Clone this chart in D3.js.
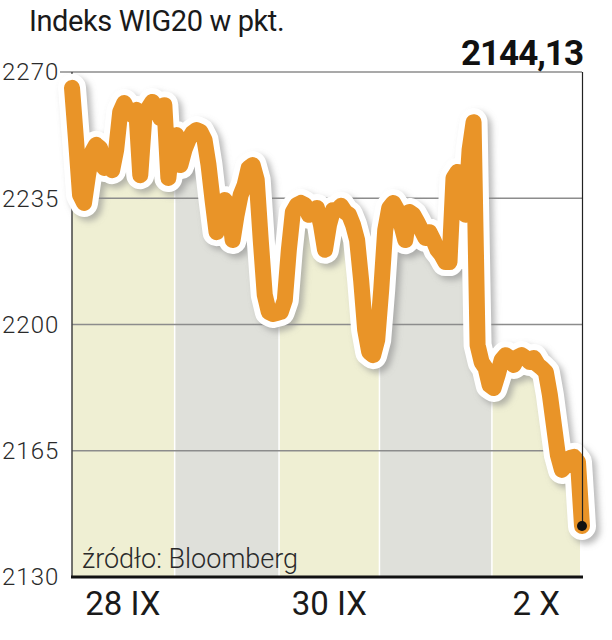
<!DOCTYPE html>
<html>
<head>
<meta charset="utf-8">
<script src="https://cdn.jsdelivr.net/npm/d3@7"></script>
<style>
    body { margin: 0; background: #fff; }
    svg text { font-family: Roboto, "DejaVu Sans", sans-serif; }
</style>
</head>
<body>
<script>
(function() {

    //////////
    // Data //
    //////////
    // WIG20 intraday, one array per session (roughly even spacing)
    var dayLabels = ["28 IX", "29 IX", "30 IX", "1 X", "2 X"];
    var shownLabels = ["28 IX", "30 IX", "2 X"];

    var day1 = [2265.6, 2251.2, 2235.9, 2233.7, 2241.4, 2247.8, 2249.8, 2248.9, 2243.4, 2245.6,
        2242.8, 2248.4, 2258.9, 2261.4, 2258.9, 2258.1, 2259.5, 2241.4, 2257.2, 2260.0,
        2261.7, 2260.0, 2257.2, 2260.8, 2240.6, 2251.2];
    var day2 = [2252.5, 2244.2, 2248.4, 2251.2, 2253.1, 2253.9, 2253.4, 2251.2, 2244.2, 2234.5,
        2225.6, 2231.7, 2234.5, 2233.1, 2223.4, 2230.4, 2235.9, 2238.7, 2243.4, 2244.2,
        2240.1, 2223.4, 2208.2, 2203.5, 2202.9, 2203.2];
    var day3 = [2203.5, 2206.8, 2220.7, 2231.2, 2233.1, 2233.7, 2233.1, 2230.4, 2231.2, 2232.3,
        2227.6, 2220.7, 2227.6, 2231.7, 2231.7, 2232.9, 2231.2, 2230.4, 2227.6, 2223.4,
        2212.3, 2198.5, 2192.4, 2191.5, 2195.7];
    var day4 = [2209.6, 2226.2, 2232.3, 2233.7, 2231.7, 2227.6, 2223.4, 2231.2, 2230.4, 2228.4,
        2226.2, 2224.0, 2225.6, 2223.4, 2220.7, 2219.3, 2217.3, 2217.3, 2240.6, 2242.3,
        2240.1, 2230.4, 2248.4, 2256.1, 2194.3, 2189.6, 2187.9, 2183.2];
    var day5 = [2182.4, 2186.0, 2190.2, 2191.5, 2190.7, 2188.8, 2191.0, 2191.5, 2190.7, 2189.6,
        2190.7, 2188.8, 2187.9, 2186.8, 2180.5, 2172.1, 2163.8, 2159.7, 2161.0, 2163.0,
        2163.3, 2161.9, 2144.13];

    var yTicks = [2130, 2165, 2200, 2235, 2270];
    var lastLabel = "2144,13";
    var title = "Indeks WIG20 w pkt.";
    var source = "źródło: Bloomberg";

    // frame
    var width = 612, height = 640,
        left = 72, right = 582,
        top = 72, bottom = 577;

    var days = [day1, day2, day3, day4, day5];
    var series = [], dayRanges = [];
    days.forEach(function(d, k) {
        var start = series.length;
        d.forEach(function(v) { series.push(v); });
        dayRanges.push({ label: dayLabels[k], start: start, end: series.length - 1, k: k });
    });

    var x = d3.scaleLinear().domain([0, series.length - 1]).range([left, right]);
    var y = d3.scaleLinear().domain([2130, 2270]).range([bottom, top]);

    var svg = d3.select("body").append("svg")
        .attr("width", width)
        .attr("height", height);

    var defs = svg.append("defs");
    defs.append("filter")
        .attr("id", "blur")
        .attr("x", "-10%").attr("y", "-10%")
        .attr("width", "120%").attr("height", "120%")
        .append("feGaussianBlur")
        .attr("stdDeviation", 3);

    var area = d3.area()
        .x(function(d, i) { return x(i); })
        .y0(bottom)
        .y1(function(d) { return y(d); });

    defs.append("clipPath")
        .attr("id", "under")
        .append("path")
        .attr("d", area(series));

    // session bands under the line
    svg.append("g")
        .attr("clip-path", "url(#under)")
        .selectAll("rect")
        .data(dayRanges)
        .enter()
        .append("rect")
        .attr("x", function(d) { return Math.max(left, x(d.start) - 1); })
        .attr("width", function(d) {
            return Math.min(580, x(d.end) + 1.5) - Math.max(left, x(d.start) - 1);
        })
        .attr("y", top)
        .attr("height", bottom - top)
        .style("fill", function(d) { return d.k % 2 ? "#dfe0da" : "#efefd3"; });

    // gridlines
    svg.append("g")
        .selectAll("line")
        .data(yTicks.slice(1))
        .enter()
        .append("line")
        .attr("x1", function(d) { return d == 2270 ? 60 : left; })
        .attr("x2", right)
        .attr("y1", function(d) { return y(d); })
        .attr("y2", function(d) { return y(d); })
        .style("stroke", "#8c8c8c")
        .style("stroke-width", 1.3);

    // left axis line
    svg.append("line")
        .attr("x1", left).attr("x2", left)
        .attr("y1", top).attr("y2", bottom)
        .style("stroke", "#444")
        .style("stroke-width", 1.5);

    // y tick labels
    svg.append("g")
        .selectAll("text")
        .data(yTicks)
        .enter()
        .append("text")
        .attr("x", 2)
        .attr("y", function(d) { return y(d) + 2; })
        .attr("dominant-baseline", "middle")
        .style("font-size", "24px")
        .style("font-weight", 300)
        .style("letter-spacing", "1px")
        .style("fill", "#2a2a2a")
        .text(function(d) { return d; });

    var line = d3.line()
        .x(function(d, i) { return x(i); })
        .y(function(d) { return y(d); });

    // drop shadow, white outline, orange line
    svg.append("path")
        .attr("d", line(series))
        .attr("transform", "translate(4,4)")
        .attr("filter", "url(#blur)")
        .style("fill", "none")
        .style("stroke", "#8a8a8a")
        .style("stroke-opacity", 0.6)
        .style("stroke-width", 28)
        .style("stroke-linejoin", "round")
        .style("stroke-linecap", "round");

    svg.append("path")
        .attr("d", line(series))
        .style("fill", "none")
        .style("stroke", "#fff")
        .style("stroke-width", 28)
        .style("stroke-linejoin", "round")
        .style("stroke-linecap", "round");

    svg.append("path")
        .attr("d", line(series))
        .style("fill", "none")
        .style("stroke", "#e99428")
        .style("stroke-width", 16)
        .style("stroke-linejoin", "round")
        .style("stroke-linecap", "round");

    // bottom axis
    svg.append("line")
        .attr("x1", left - 1).attr("x2", right + 1)
        .attr("y1", bottom).attr("y2", bottom)
        .style("stroke", "#111")
        .style("stroke-width", 3);

    // right border down to the last point
    var lastI = series.length - 1;
    svg.append("line")
        .attr("x1", right + 0.5).attr("x2", right + 0.5)
        .attr("y1", top).attr("y2", y(series[lastI]))
        .style("stroke", "#222")
        .style("stroke-width", 1.2);

    svg.append("circle")
        .attr("cx", x(lastI))
        .attr("cy", y(series[lastI]))
        .attr("r", 5)
        .style("fill", "#111");

    // x labels centred in their sessions
    svg.append("g")
        .selectAll("text")
        .data(dayRanges.filter(function(d) { return shownLabels.indexOf(d.label) >= 0; }))
        .enter()
        .append("text")
        .attr("x", function(d) {
            return (Math.max(left, x(d.start) - 1) + Math.min(580, x(d.end) + 1.5)) / 2;
        })
        .attr("y", 615)
        .attr("text-anchor", "middle")
        .style("font-size", "33px")
        .style("fill", "#1a1a1a")
        .text(function(d) { return d.label; });

    // titles
    svg.append("text")
        .attr("x", 29)
        .attr("y", 31)
        .style("font-size", "29px")
        .style("letter-spacing", "-0.4px")
        .style("fill", "#1a1a1a")
        .text(title);

    svg.append("text")
        .attr("x", right + 1)
        .attr("y", 65)
        .attr("text-anchor", "end")
        .style("font-size", "35px")
        .style("font-weight", 700)
        .style("letter-spacing", "-1px")
        .style("fill", "#111")
        .text(lastLabel);

    svg.append("text")
        .attr("x", 82)
        .attr("y", 568)
        .style("font-size", "27px")
        .style("font-weight", 300)
        .style("fill", "#2a2a2a")
        .text(source);
})();
</script>
</body>
</html>
